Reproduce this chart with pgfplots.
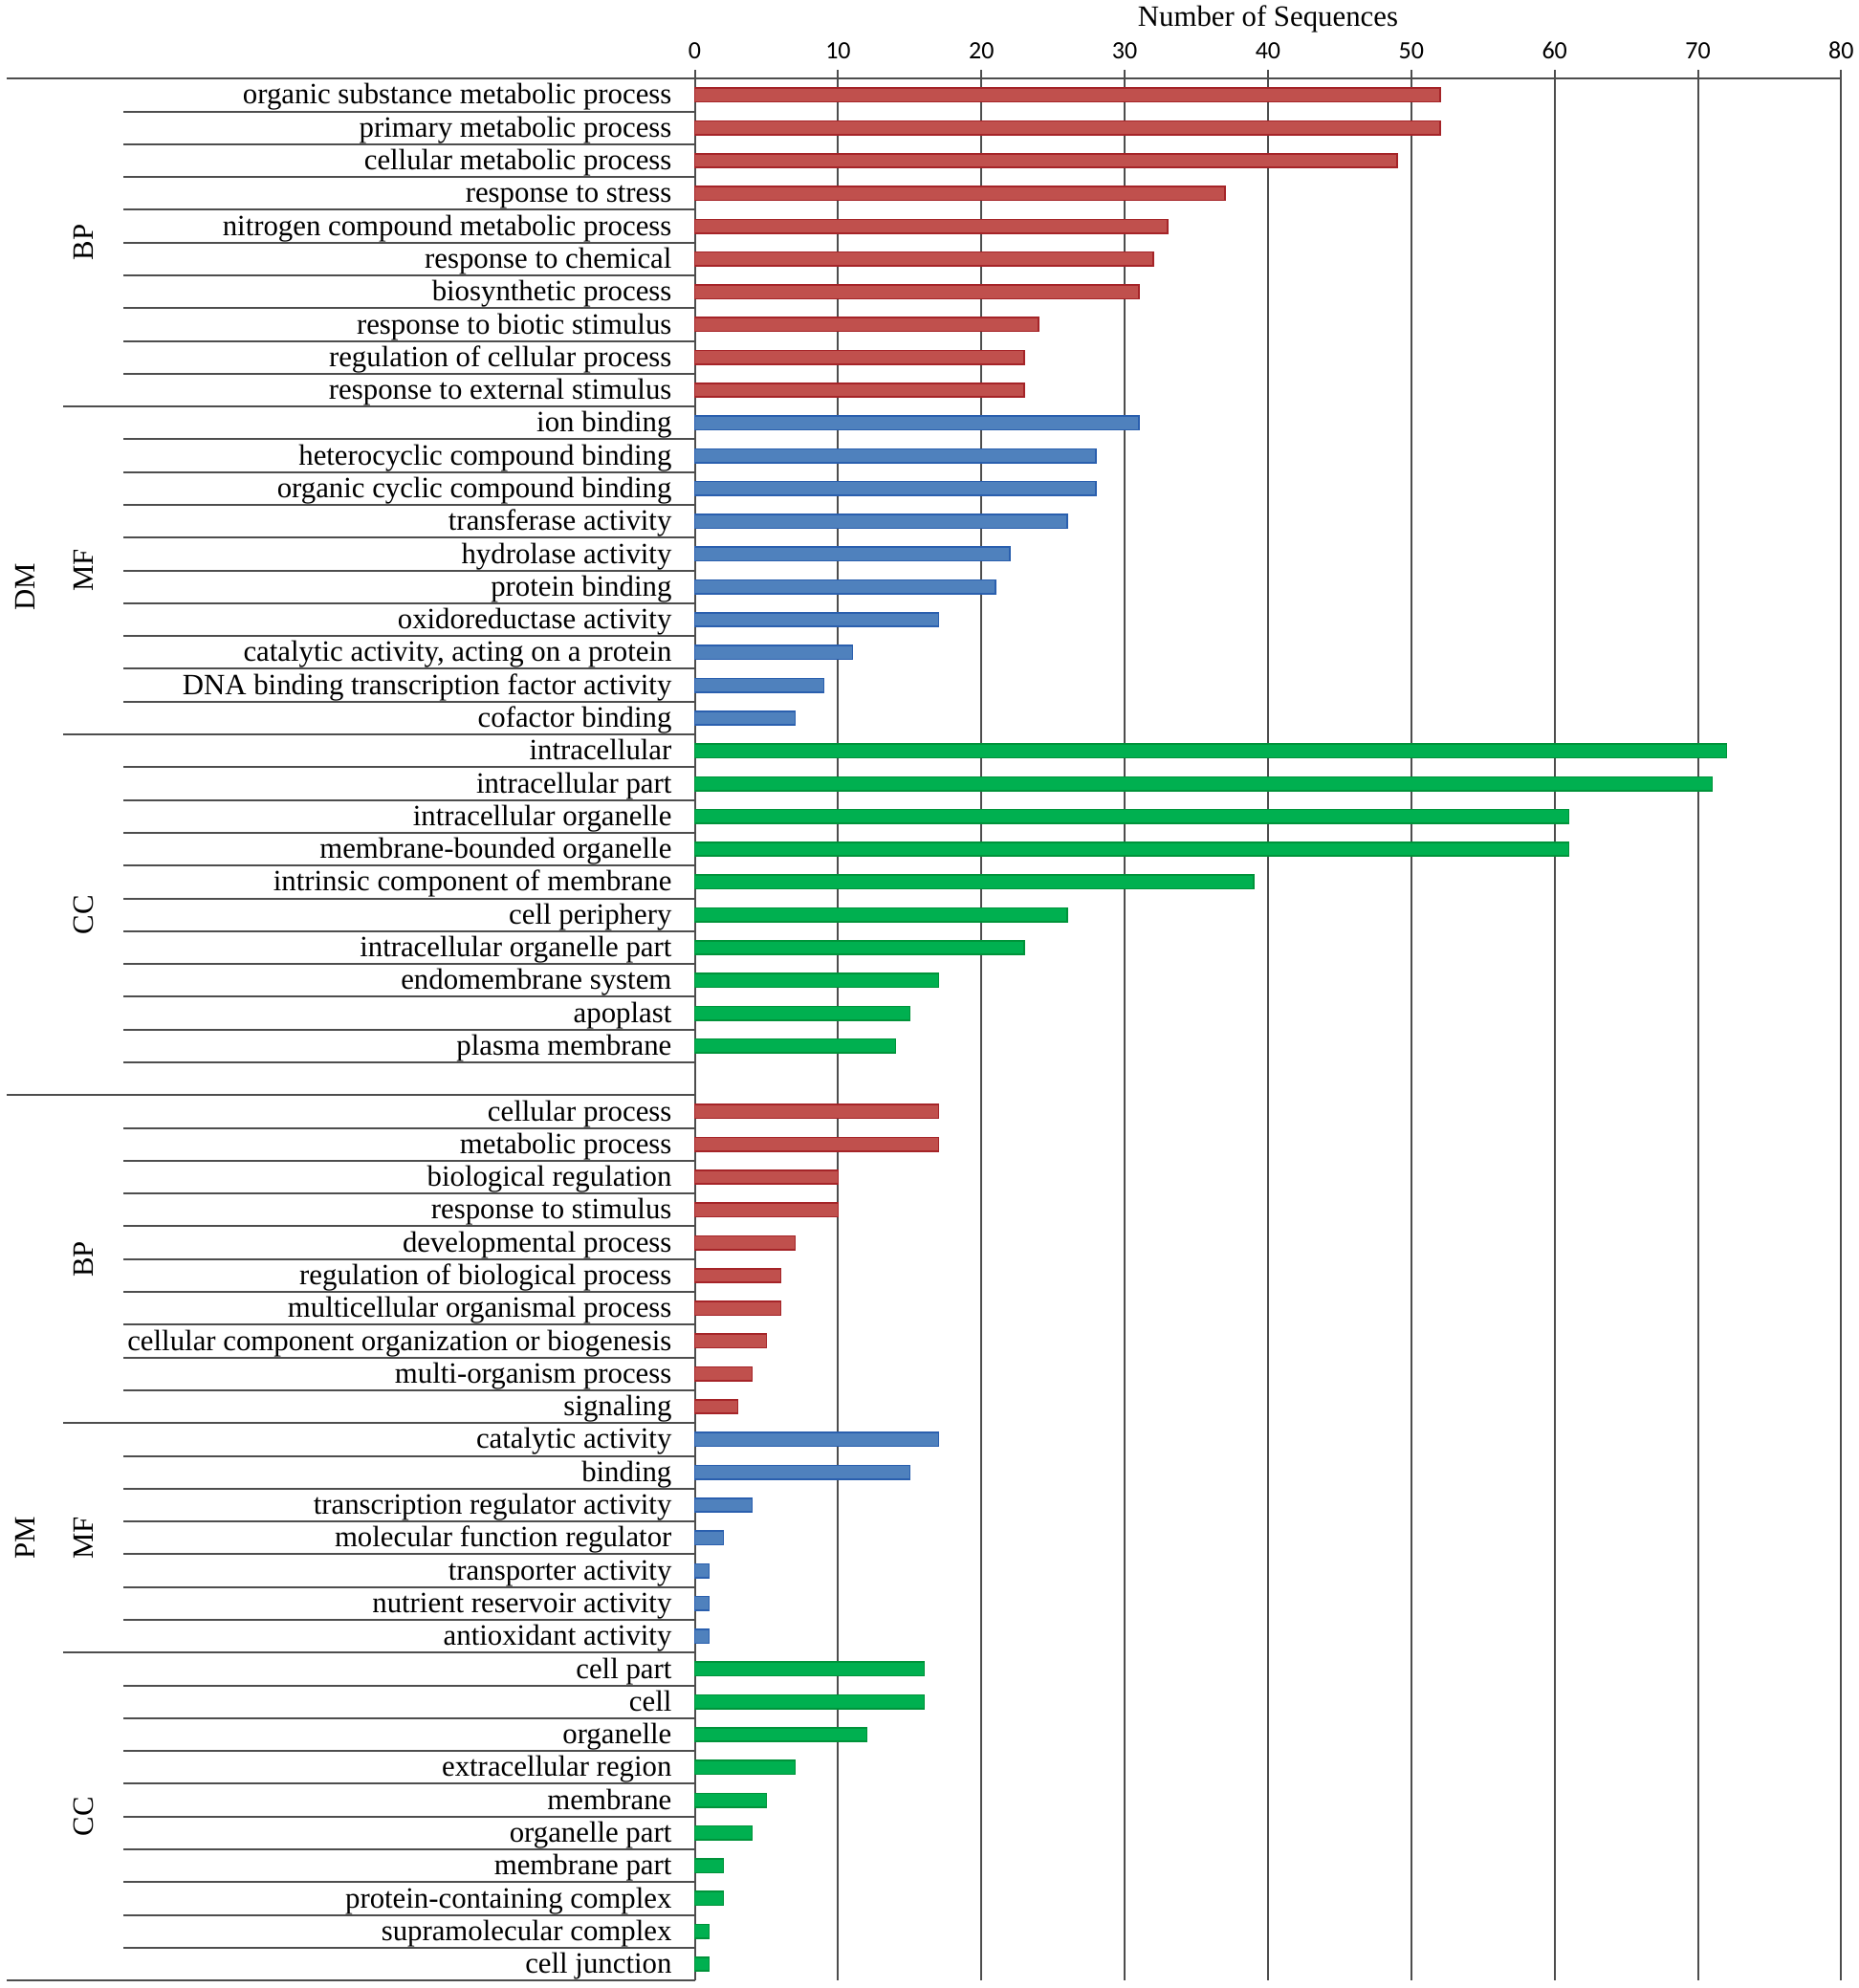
\documentclass[border=0pt]{standalone}
\usepackage{pgfplots}
\pgfplotsset{compat=1.18}
\usepackage{fontspec}
\setmainfont{Liberation Serif}
\newfontfamily\tickfont{Carlito}
\definecolor{barred}{HTML}{C0504D}
\definecolor{barredE}{HTML}{A52428}
\definecolor{barblue}{HTML}{4F81BD}
\definecolor{barblueE}{HTML}{2A5FAE}
\definecolor{bargreen}{HTML}{00B050}
\definecolor{bargreenE}{HTML}{00933A}
\definecolor{linegray}{HTML}{4D4D4D}
\newcommand\lblfont{\fontsize{15.4}{18}\selectfont}
\begin{document}
\begin{tikzpicture}
\begin{axis}[
  scale only axis, width=599.4pt, height=994.5pt,
  xmin=0, xmax=80, ymin=-0.5, ymax=57.5, y dir=reverse,
  axis x line*=top, axis y line*=left,
  axis line style={linegray, line width=1pt},
  xtick={0,10,20,30,40,50,60,70,80},
  xmajorgrids, grid style={linegray, line width=1pt},
  tick align=outside, major tick length=4.5pt,
  xtick style={linegray, line width=1pt},
  ytick={0,...,57}, ytick style={draw=none},
  yticklabels={organic substance metabolic process, primary metabolic process, cellular metabolic process, response to stress, nitrogen compound metabolic process, response to chemical, biosynthetic process, response to biotic stimulus, regulation of cellular process, response to external stimulus,
  ion binding, heterocyclic compound binding, organic cyclic compound binding, transferase activity, hydrolase activity, protein binding, oxidoreductase activity, {catalytic activity, acting on a protein}, DNA binding transcription factor activity, cofactor binding,
  intracellular, intracellular part, intracellular organelle, membrane-bounded organelle, intrinsic component of membrane, cell periphery, intracellular organelle part, endomembrane system, apoplast, plasma membrane, {},
  cellular process, metabolic process, biological regulation, response to stimulus, developmental process, regulation of biological process, multicellular organismal process, cellular component organization or biogenesis, multi-organism process, signaling,
  catalytic activity, binding, transcription regulator activity, molecular function regulator, transporter activity, nutrient reservoir activity, antioxidant activity,
  cell part, cell, organelle, extracellular region, membrane, organelle part, membrane part, protein-containing complex, supramolecular complex, cell junction},
  typeset ticklabels with strut,
  yticklabel style={font=\lblfont, anchor=east, inner sep=0pt, xshift=-7.4pt, yshift=-1.2pt},
  xticklabel style={font=\tickfont\fontsize{13}{15}\selectfont, anchor=south, inner sep=0pt, yshift=1pt},
  /pgf/number format/assume math mode=true,
  xbar, bar width=0.42, bar shift=0pt,
  clip=false,
]
\addplot[fill=barred, draw=barredE, line width=0.8pt] coordinates {
(52,0) (52,1) (49,2) (37,3) (33,4) (32,5) (31,6) (24,7) (23,8) (23,9)
(17,31) (17,32) (10,33) (10,34) (7,35) (6,36) (6,37) (5,38) (4,39) (3,40)};
\addplot[fill=barblue, draw=barblueE, line width=0.8pt] coordinates {
(31,10) (28,11) (28,12) (26,13) (22,14) (21,15) (17,16) (11,17) (9,18) (7,19)
(17,41) (15,42) (4,43) (2,44) (1,45) (1,46) (1,47)};
\addplot[fill=bargreen, draw=bargreenE, line width=0.8pt] coordinates {
(72,20) (71,21) (61,22) (61,23) (39,24) (26,25) (23,26) (17,27) (15,28) (14,29)
(16,48) (16,49) (12,50) (7,51) (5,52) (4,53) (2,54) (2,55) (1,56) (1,57)};
% row separators
\pgfplotsinvokeforeach{0.5,1.5,2.5,3.5,4.5,5.5,6.5,7.5,8.5,10.5,11.5,12.5,13.5,14.5,15.5,16.5,17.5,18.5,20.5,21.5,22.5,23.5,24.5,25.5,26.5,27.5,28.5,29.5,31.5,32.5,33.5,34.5,35.5,36.5,37.5,38.5,39.5,41.5,42.5,43.5,44.5,45.5,46.5,48.5,49.5,50.5,51.5,52.5,53.5,54.5,55.5,56.5}{
  \draw[linegray, line width=1pt] (axis cs:0,#1) -- ++(-299pt,0pt);
}
\pgfplotsinvokeforeach{9.5,19.5,40.5,47.5}{
  \draw[linegray, line width=1pt] (axis cs:0,#1) -- ++(-330.2pt,0pt);
}
\pgfplotsinvokeforeach{-0.5,30.5,57.5}{
  \draw[linegray, line width=1pt] (axis cs:0,#1) -- ++(-360pt,0pt);
}
% group labels
\node[rotate=90, font=\lblfont, inner sep=0pt] at ([xshift=-319.6pt]axis cs:0,4.5) {BP};
\node[rotate=90, font=\lblfont, inner sep=0pt] at ([xshift=-319.6pt]axis cs:0,14.5) {MF};
\node[rotate=90, font=\lblfont, inner sep=0pt] at ([xshift=-319.6pt]axis cs:0,25) {CC};
\node[rotate=90, font=\lblfont, inner sep=0pt] at ([xshift=-319.6pt]axis cs:0,35.5) {BP};
\node[rotate=90, font=\lblfont, inner sep=0pt] at ([xshift=-319.6pt]axis cs:0,44) {MF};
\node[rotate=90, font=\lblfont, inner sep=0pt] at ([xshift=-319.6pt]axis cs:0,52.5) {CC};
\node[rotate=90, font=\lblfont, inner sep=0pt] at ([xshift=-350pt]axis cs:0,15) {DM};
\node[rotate=90, font=\lblfont, inner sep=0pt] at ([xshift=-350pt]axis cs:0,44) {PM};
% title
\node[font=\lblfont, inner sep=0pt] at ([yshift=31.3pt]axis cs:40,-0.5) {Number of Sequences};
% bounding box
\path ([xshift=-363.3pt, yshift=41.1pt]axis cs:0,-0.5) rectangle ++(972pt,-1039.5pt);
\end{axis}
\end{tikzpicture}
\end{document}
